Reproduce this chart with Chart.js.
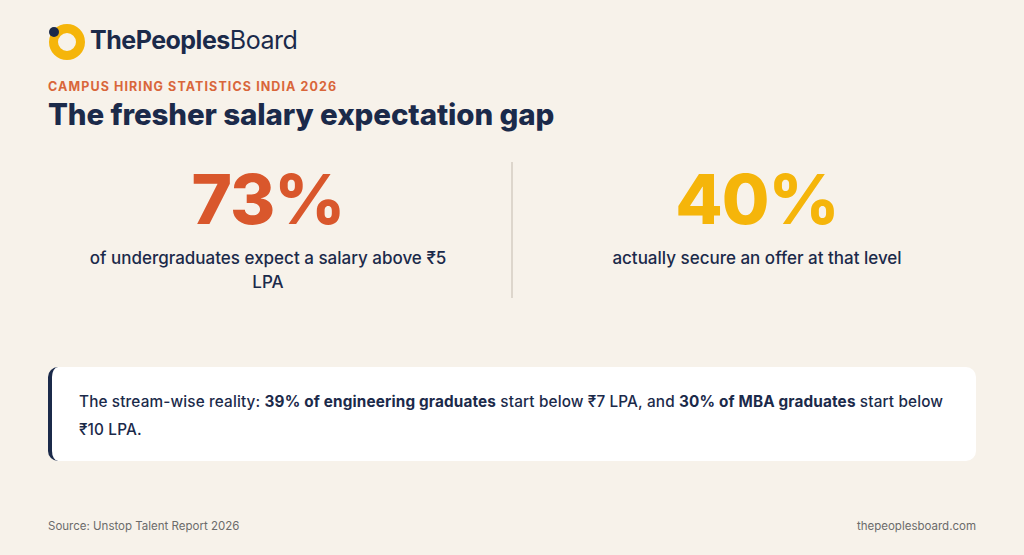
<!DOCTYPE html>
<html>
<head>
<meta charset="utf-8">
<script src="https://cdn.jsdelivr.net/npm/chart.js@4"></script>
<style>
  html, body { margin: 0; padding: 0; }
  body { width: 1024px; height: 555px; background: #f7f2ea; font-family: Inter, "Noto Sans", sans-serif; color: #1b2a4a; position: relative; overflow: hidden; }
  .abs { position: absolute; }
  #brand { left: 90px; top: 25px; font-size: 25px; font-weight: 700; letter-spacing: -0.5px; }
  #brand span { font-weight: 400; }
  #kicker { left: 48px; top: 79px; font-size: 12.5px; font-weight: 700; color: #d9663a; letter-spacing: 1.1px; }
  #title { left: 48px; top: 96px; font-size: 29.5px; font-weight: 800; letter-spacing: -0.1px; }
  .col { top: 162px; width: 440px; text-align: center; }
  .big { font-size: 69px; font-weight: 800; line-height: 74px; letter-spacing: -1px; }
  .desc { width: 390px; margin: 10px auto 0; font-size: 17px; font-weight: 500; line-height: 24px; }
  #divider { left: 511px; top: 162px; width: 2px; height: 136px; background: #ddd6cc; }
  #callout { left: 48px; top: 367px; width: 928px; height: 94px; background: #fff; border-radius: 10px; border-left: 4px solid #1b2a4a; box-sizing: border-box; padding: 21px 27px; font-size: 15.3px; font-weight: 500; line-height: 28px; letter-spacing: 0.15px; }
  #callout b { font-weight: 700; }
  .foot { top: 519px; font-size: 11.5px; color: #6b6b6b; }
</style>
</head>
<body>
<canvas id="logo" class="abs" style="left:48px;top:24px" width="38" height="36"></canvas>
<div id="brand" class="abs">ThePeoples<span>Board</span></div>
<div id="kicker" class="abs">CAMPUS HIRING STATISTICS INDIA 2026</div>
<div id="title" class="abs">The fresher salary expectation gap</div>
<div id="stats"></div>
<div id="divider" class="abs"></div>
<div id="callout" class="abs">The stream-wise reality: <b>39% of engineering graduates</b> start below ₹7 LPA, and <b>30% of MBA graduates</b> start below ₹10 LPA.</div>
<div class="abs foot" style="left:48px">Source: Unstop Talent Report 2026</div>
<div class="abs foot" style="right:48px">thepeoplesboard.com</div>
<script>
const statValues = [73, 40];
const statLabels = ['of undergraduates expect a salary above ₹5 LPA', 'actually secure an offer at that level'];
const statColors = ['#d9572c', '#f5b50a'];
const statLefts = [48, 537];

const wrap = document.getElementById('stats');
statValues.forEach((v, i) => {
  const d = document.createElement('div');
  d.className = 'abs col';
  d.style.left = statLefts[i] + 'px';
  d.innerHTML = `<div class="big" style="color:${statColors[i]}">${v}%</div><div class="desc">${statLabels[i]}</div>`;
  wrap.appendChild(d);
});

// logo ring drawn as a doughnut
new Chart(document.getElementById('logo'), {
  type: 'doughnut',
  data: { datasets: [{ data: [1], backgroundColor: ['#f5b50a'], borderWidth: 0 }] },
  options: {
    responsive: false, animation: false, cutout: '50%',
    plugins: { legend: { display: false }, tooltip: { enabled: false } }
  },
  plugins: [{
    id: 'dot',
    afterDraw(c) {
      const ctx = c.ctx;
      ctx.fillStyle = '#1b2a4a';
      ctx.beginPath(); ctx.arc(6, 8, 5, 0, Math.PI * 2); ctx.fill();
    }
  }]
});
</script>
</body>
</html>
